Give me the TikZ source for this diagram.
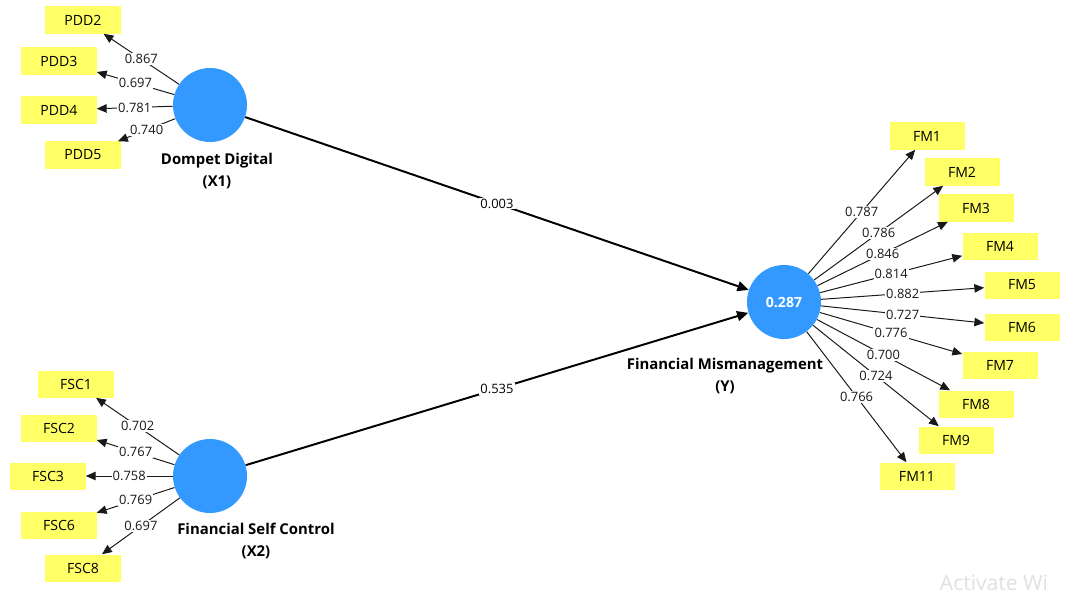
\documentclass[tikz,border=0pt]{standalone}
\usepackage{fontspec}
\setmainfont{Open Sans}
\usetikzlibrary{arrows.meta}
\definecolor{lvblue}{RGB}{51,153,255}
\definecolor{mvyellow}{RGB}{255,255,102}
\begin{document}
\begin{tikzpicture}[x=0.025cm,y=-0.025cm,
  lv/.style={circle,fill=lvblue,minimum size=1.85cm,inner sep=0pt,text=white,font=\fontsize{10}{12}\selectfont\bfseries},
  mv/.style={fill=mvyellow,minimum width=1.875cm,minimum height=0.675cm,inner sep=0pt,font=\fontsize{10}{12}\selectfont},
  lvname/.style={align=center,font=\fontsize{10.6}{15}\selectfont\bfseries},
  ld/.style={fill=white,inner sep=0.8pt,font=\fontsize{9.2}{10}\selectfont},
  ind/.style={-{Triangle[length=7pt,width=6pt]},line width=0.7pt,black!90},
  str/.style={-{Triangle[length=8pt,width=7pt]},line width=1.4pt,black}]
\useasboundingbox (0,0) rectangle (1076,592);
% latent variables
\node[lv] (x1) at (210,105) {};
\node[lv] (x2) at (210,476) {};
\node[lv] (y) at (784,302) {0.287};
\node[lvname] (x1name) at (217,171) {Dompet Digital\\(X1)};
\node[lvname] (x2name) at (256,541) {Financial Self Control\\(X2)};
\node[lvname] (yname) at (725,376) {Financial Mismanagement\\(Y)};
% indicators X1
\node[mv] (pdd2) at (83,20) {PDD2};
\node[mv] (pdd3) at (59,61) {PDD3};
\node[mv] (pdd4) at (59,110) {PDD4};
\node[mv] (pdd5) at (83,155) {PDD5};
% indicators X2
\node[mv] (fsc1) at (76,384) {FSC1};
\node[mv] (fsc2) at (59,428) {FSC2};
\node[mv] (fsc3) at (48,476) {FSC3};
\node[mv] (fsc6) at (59,525) {FSC6};
\node[mv] (fsc8) at (83,568) {FSC8};
% indicators Y
\node[mv] (fm1) at (927,136) {FM1};
\node[mv] (fm2) at (962,172) {FM2};
\node[mv] (fm3) at (976,208) {FM3};
\node[mv] (fm4) at (1000,246) {FM4};
\node[mv] (fm5) at (1022,285) {FM5};
\node[mv] (fm6) at (1022,327) {FM6};
\node[mv] (fm7) at (1000,365) {FM7};
\node[mv] (fm8) at (976,404) {FM8};
\node[mv] (fm9) at (956,440) {FM9};
\node[mv] (fm11) at (917,476) {FM11};
% outer loadings
\draw[ind] (x1) -- node[ld] {0.867} (pdd2);
\draw[ind] (x1) -- node[ld] {0.697} (pdd3);
\draw[ind] (x1) -- node[ld] {0.781} (pdd4);
\draw[ind] (x1) -- node[ld] {0.740} (pdd5);
\draw[ind] (x2) -- node[ld] {0.702} (fsc1);
\draw[ind] (x2) -- node[ld] {0.767} (fsc2);
\draw[ind] (x2) -- node[ld] {0.758} (fsc3);
\draw[ind] (x2) -- node[ld] {0.769} (fsc6);
\draw[ind] (x2) -- node[ld] {0.697} (fsc8);
\draw[ind] (y) -- node[ld] {0.787} (fm1);
\draw[ind] (y) -- node[ld] {0.786} (fm2);
\draw[ind] (y) -- node[ld] {0.846} (fm3);
\draw[ind] (y) -- node[ld] {0.814} (fm4);
\draw[ind] (y) -- node[ld] {0.882} (fm5);
\draw[ind] (y) -- node[ld] {0.727} (fm6);
\draw[ind] (y) -- node[ld] {0.776} (fm7);
\draw[ind] (y) -- node[ld] {0.700} (fm8);
\draw[ind] (y) -- node[ld] {0.724} (fm9);
\draw[ind] (y) -- node[ld] {0.766} (fm11);
% path coefficients
\draw[str] (x1) -- node[ld] {0.003} (y);
\draw[str] (x2) -- node[ld] {0.535} (y);
\node[text=black!12,anchor=base west,font=\fontsize{15}{18}\selectfont] (wm) at (935,590) {Activate Wi};
\end{tikzpicture}
\end{document}
